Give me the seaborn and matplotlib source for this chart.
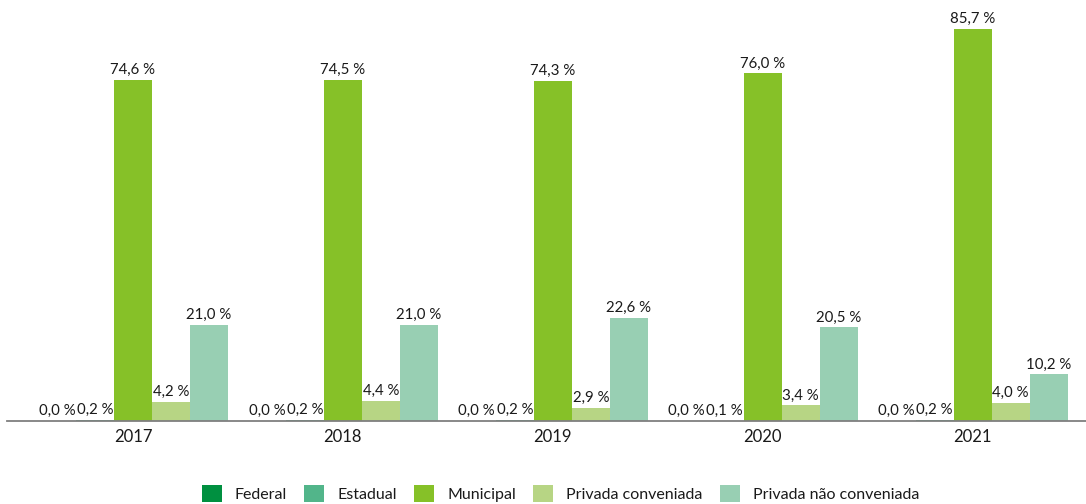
import numpy as np
import pandas as pd
import matplotlib
matplotlib.use('Agg')
import matplotlib.pyplot as plt
import seaborn as sns

anos = ['2017', '2018', '2019', '2020', '2021']
redes = ['Federal', 'Estadual', 'Municipal', 'Privada conveniada', 'Privada não conveniada']
federal = [0.0, 0.0, 0.0, 0.0, 0.0]
estadual = [0.2, 0.2, 0.2, 0.1, 0.2]
municipal = [74.6, 74.5, 74.3, 76.0, 85.7]
privada_conv = [4.2, 4.4, 2.9, 3.4, 4.0]
privada_nao_conv = [21.0, 21.0, 22.6, 20.5, 10.2]
cores = ['#009040', '#52B58A', '#86C128', '#B7D584', '#98CFB3']

series = [federal, estadual, municipal, privada_conv, privada_nao_conv]
df = pd.DataFrame([
    {'Ano': a, 'Rede': r, 'Valor': v}
    for r, vals in zip(redes, series)
    for a, v in zip(anos, vals)
])

sns.set_style('white')
plt.rcParams['font.family'] = ['Lato', 'DejaVu Sans']

fig = plt.figure(figsize=(10.86, 5.04), dpi=100)
ax = fig.add_axes([7 / 1086, 1 - 421 / 504, 1 - 7 / 1086, 421 / 504])

sns.barplot(data=df, x='Ano', y='Valor', hue='Rede', hue_order=redes,
            palette=cores, order=anos, width=0.905, saturation=1,
            linewidth=0, ax=ax, legend=True)

for cont in ax.containers:
    labels = [f'{v:.1f} %'.replace('.', ',') for v in cont.datavalues]
    ax.bar_label(cont, labels=labels, padding=2, fontsize=10.8, color='#1a1a1a')

ax.set_ylim(0, 92)
ax.set_xlim(-0.6, 4.54)
ax.set_xlabel('')
ax.set_ylabel('')
ax.set_yticks([])
for s in ['top', 'right', 'left']:
    ax.spines[s].set_visible(False)
ax.spines['bottom'].set_color('#7f7f7f')
ax.spines['bottom'].set_linewidth(1.3)
ax.tick_params(axis='x', length=0, labelsize=12, pad=6, labelcolor='#1a1a1a')

ax.legend(loc='center', bbox_to_anchor=(0.513, -0.172), ncol=5, frameon=False,
          fontsize=11.5, handlelength=1.25, handleheight=1.25, handletextpad=0.8,
          columnspacing=1.1, labelcolor='#1a1a1a', borderpad=0.2)

fig.savefig('out.png', dpi=100)
